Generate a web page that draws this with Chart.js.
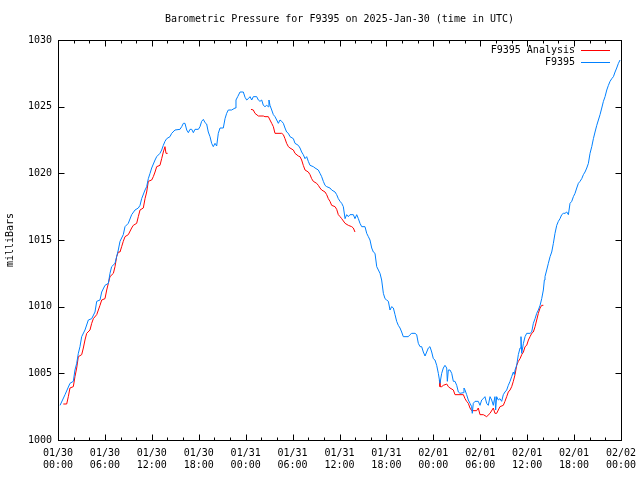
<!DOCTYPE html>
<html>
<head>
<meta charset="utf-8">
<title>Barometric Pressure for F9395</title>
<script src="https://cdn.jsdelivr.net/npm/chart.js@4.4.1/dist/chart.umd.min.js"></script>
<style>
    html, body { margin: 0; padding: 0; background: #fff; }
</style>
</head>
<body>
<canvas id="pressureChart" width="640" height="480"></canvas>
<script>
// --- Data (hours since 01/30 00:00 UTC, pressure in mbar) ---
const chartTitle = 'Barometric Pressure for F9395 on 2025-Jan-30 (time in UTC)';
const yAxisLabel = 'milliBars';

const tickDates = ['01/30', '01/30', '01/30', '01/30', '01/31', '01/31', '01/31', '01/31', '02/01', '02/01', '02/01', '02/01', '02/02'];
const tickTimes = ['00:00', '06:00', '12:00', '18:00', '00:00', '06:00', '12:00', '18:00', '00:00', '06:00', '12:00', '18:00', '00:00'];

const stationLabel = 'F9395';
const stationHours = [
    0.26, 0.9, 1.53, 1.96, 2.17, 2.39, 2.6, 2.81, 3.03, 3.45, 3.88, 4.31, 4.73, 4.95, 5.37, 5.59, 6.01, 6.44, 6.65, 6.86,
    7.29, 7.5, 7.71, 7.93, 8.35, 8.57, 8.99, 9.42, 9.85, 10.27, 10.49, 10.7, 11.13, 11.34, 11.55, 11.77, 11.98, 12.41, 12.62, 13.04,
    13.26, 13.47, 13.68, 13.9, 14.32, 14.54, 14.96, 15.6, 15.82, 16.03, 16.24, 16.46, 16.67, 16.88, 17.1, 17.31, 17.52, 17.95, 18.16, 18.37,
    18.59, 18.8, 19.01, 19.22, 19.44, 19.65, 19.86, 20.08, 20.29, 20.5, 20.72, 21.14, 21.36, 21.57, 21.78, 22.21, 22.64, 22.76, 22.98, 23.28,
    23.7, 23.92, 24.13, 24.34, 24.56, 24.77, 24.98, 25.41, 25.62, 25.83, 26.05, 26.26, 26.47, 26.69, 26.9, 26.98, 27.11, 27.33, 27.54, 27.75,
    27.97, 28.18, 28.39, 28.61, 28.82, 29.03, 29.24, 29.46, 29.67, 30.1, 30.31, 30.73, 30.95, 31.16, 31.37, 31.59, 31.8, 32.01, 32.23, 32.65,
    32.87, 33.29, 33.51, 33.72, 33.93, 34.15, 34.36, 34.78, 35.0, 35.43, 35.64, 35.85, 36.07, 36.28, 36.49, 36.71, 36.92, 37.13, 37.34, 37.77,
    37.98, 38.2, 38.41, 38.62, 38.84, 39.26, 39.48, 39.69, 39.9, 40.12, 40.33, 40.54, 40.76, 40.97, 41.18, 41.39, 41.61, 41.82, 42.03, 42.25,
    42.46, 42.67, 42.89, 43.1, 43.31, 43.52, 43.74, 43.95, 44.16, 44.8, 45.02, 45.23, 45.66, 45.87, 46.08, 46.3, 46.51, 46.72, 46.94, 47.15,
    47.36, 47.57, 47.79, 48.0, 48.21, 48.43, 48.64, 48.85, 49.07, 49.28, 49.49, 49.71, 49.79, 49.92, 50.13, 50.35, 50.56, 50.77, 50.99, 51.2,
    51.41, 51.84, 51.92, 52.05, 52.26, 52.47, 52.69, 52.9, 52.98, 53.11, 53.33, 53.75, 53.97, 54.18, 54.39, 54.6, 54.82, 55.03, 55.25, 55.46,
    55.67, 55.88, 55.97, 56.1, 56.31, 56.52, 56.74, 56.95, 57.16, 57.38, 57.59, 57.81, 58.02, 58.23, 58.36, 58.45, 58.66, 58.87, 59.09, 59.21,
    59.3, 59.52, 59.73, 59.94, 60.37, 60.58, 60.79, 61.01, 61.22, 61.43, 61.65, 61.86, 62.07, 62.2, 62.28, 62.5, 62.71, 62.93, 63.14, 63.35,
    63.56, 63.78, 63.99, 64.2, 64.42, 64.63, 64.84, 65.06, 65.27, 65.48, 65.7, 65.91, 66.12, 66.34, 66.55, 66.76, 66.98, 67.19, 67.4, 67.62,
    67.83, 68.04, 68.26, 68.47, 68.68, 68.9, 69.11, 69.32, 69.54, 69.75, 69.96, 70.18, 70.39, 70.6, 70.82, 71.03, 71.24, 71.45, 71.67, 71.88
];
const stationValues = [
    1002.6, 1003.4, 1004.25, 1004.4, 1005.25, 1005.75, 1006.5, 1007.0, 1007.75, 1008.25, 1009.0, 1009.1, 1009.6, 1010.4, 1010.5, 1011.1, 1011.6, 1011.75, 1012.5, 1013.0,
    1013.25, 1013.75, 1014.25, 1014.9, 1015.4, 1016.0, 1016.25, 1016.9, 1017.25, 1017.4, 1017.6, 1018.1, 1018.75, 1019.0, 1019.6, 1020.0, 1020.4, 1021.0, 1021.25, 1021.5,
    1021.75, 1022.1, 1022.4, 1022.6, 1022.75, 1023.0, 1023.25, 1023.3, 1023.5, 1023.75, 1023.75, 1023.25, 1023.05, 1023.3, 1023.3, 1023.05, 1023.3, 1023.3, 1023.5, 1023.9,
    1024.05, 1023.8, 1023.7, 1023.1, 1022.75, 1022.25, 1022.0, 1022.25, 1022.05, 1023.0, 1023.4, 1023.4, 1024.1, 1024.5, 1024.75, 1024.75, 1024.9, 1025.5, 1025.75, 1026.1,
    1026.1, 1025.7, 1025.5, 1025.6, 1025.75, 1025.5, 1025.75, 1025.75, 1025.5, 1025.4, 1025.5, 1025.1, 1025.0, 1025.1, 1025.0, 1025.5, 1025.1, 1024.75, 1024.4, 1024.25,
    1024.0, 1023.75, 1024.0, 1023.9, 1023.75, 1023.4, 1023.1, 1023.0, 1022.75, 1022.6, 1022.25, 1022.1, 1021.9, 1021.6, 1021.4, 1021.1, 1021.25, 1020.9, 1020.6, 1020.5,
    1020.4, 1020.25, 1020.0, 1019.75, 1019.4, 1019.1, 1019.0, 1018.9, 1018.75, 1018.6, 1018.4, 1018.1, 1017.9, 1017.75, 1017.5, 1016.6, 1016.9, 1016.75, 1016.9, 1016.9,
    1016.6, 1016.9, 1016.6, 1016.25, 1016.0, 1016.0, 1015.5, 1015.25, 1015.0, 1014.4, 1014.1, 1014.0, 1013.0, 1012.75, 1012.5, 1012.0, 1011.0, 1010.6, 1010.5, 1010.4,
    1009.75, 1010.0, 1009.9, 1009.4, 1008.9, 1008.6, 1008.4, 1008.1, 1007.75, 1007.75, 1007.9, 1008.0, 1008.0, 1007.9, 1007.25, 1007.0, 1007.0, 1006.6, 1006.3, 1006.6,
    1006.9, 1007.0, 1006.6, 1006.1, 1006.0, 1005.6, 1005.0, 1004.25, 1005.0, 1005.4, 1005.6, 1005.4, 1004.4, 1005.25, 1005.25, 1005.0, 1004.4, 1004.4, 1004.1, 1003.6,
    1003.5, 1003.55, 1003.9, 1003.75, 1003.4, 1003.0, 1002.75, 1002.5, 1002.0, 1002.75, 1002.9, 1002.9, 1002.6, 1003.0, 1003.1, 1003.25, 1002.75, 1002.6, 1003.25, 1003.0,
    1002.6, 1003.25, 1002.25, 1003.25, 1003.0, 1003.1, 1002.9, 1003.4, 1003.6, 1003.75, 1004.1, 1004.4, 1004.75, 1005.1, 1004.9, 1005.25, 1005.6, 1006.4, 1006.9, 1007.75,
    1006.5, 1007.25, 1007.75, 1008.0, 1008.0, 1008.1, 1008.75, 1009.1, 1009.5, 1009.75, 1010.1, 1010.6, 1011.25, 1012.0, 1012.25, 1012.75, 1013.25, 1013.75, 1014.1, 1014.75,
    1015.5, 1016.1, 1016.4, 1016.6, 1016.9, 1017.0, 1017.0, 1017.1, 1016.9, 1017.75, 1017.9, 1018.25, 1018.5, 1018.9, 1019.25, 1019.4, 1019.6, 1019.9, 1020.1, 1020.4,
    1020.75, 1021.5, 1022.0, 1022.6, 1023.1, 1023.6, 1024.0, 1024.4, 1024.9, 1025.4, 1025.75, 1026.25, 1026.6, 1026.9, 1027.1, 1027.25, 1027.6, 1027.9, 1028.25, 1028.5
];

// analysis has gaps (null) where no analysis was drawn
const analysisLabel = 'F9395 Analysis';
const analysisHours = [
    0.68, 1.11, 1.32, 1.53, 1.96, 2.17, 2.39, 2.6, 3.03, 3.24, 3.45, 3.67, 4.09, 4.31, 4.52, 4.95, 5.16, 5.37, 5.59, 6.01,
    6.23, 6.44, 6.65, 7.08, 7.29, 7.5, 7.71, 7.93, 8.14, 8.35, 8.57, 8.99, 9.42, 9.63, 10.06, 10.27, 10.49, 10.91, 11.13, 11.34,
    11.55, 11.98, 12.19, 12.41, 12.62, 13.04, 13.26, 13.47, 13.68, 13.81, 14.02,
    19,
    24.68, 24.98, 25.19, 25.62, 26.26, 26.47, 26.9, 27.11, 27.33, 27.54, 27.75, 28.61, 28.82, 29.03, 29.24, 29.46, 29.67, 30.1, 30.31, 30.73,
    30.95, 31.16, 31.37, 31.59, 32.01, 32.23, 32.44, 32.65, 33.08, 33.29, 33.51, 33.72, 34.15, 34.36, 34.57, 34.78, 35.0, 35.43, 35.64, 35.85,
    36.07, 36.28, 36.71, 37.13, 37.56, 37.77, 37.98,
    43,
    48.77, 48.85, 49.07, 49.28, 49.71, 49.92, 50.13, 50.56, 50.77, 51.84, 52.05, 52.26, 52.47, 52.69, 52.9, 53.54, 53.75, 53.97, 54.39, 54.82,
    55.25, 55.67, 55.88, 56.1, 56.31, 56.52, 56.95, 57.16, 57.38, 57.59, 57.81, 58.02, 58.23, 58.45, 58.66, 58.87, 59.09, 59.3, 59.52, 59.73,
    59.94, 60.16, 60.37, 60.58, 60.79, 61.01, 61.22, 61.43, 61.65, 61.86, 62.07
];
const analysisValues = [
    1002.7, 1002.7, 1003.25, 1003.9, 1004.0, 1004.75, 1005.4, 1006.25, 1006.4, 1006.9, 1007.5, 1008.0, 1008.25, 1008.75, 1009.1, 1009.4, 1009.75, 1010.1, 1010.5, 1010.6,
    1011.25, 1011.75, 1012.25, 1012.5, 1013.0, 1013.75, 1014.1, 1014.1, 1014.5, 1014.9, 1015.25, 1015.4, 1015.9, 1016.1, 1016.25, 1016.75, 1017.25, 1017.4, 1018.1, 1018.6,
    1019.4, 1019.5, 1019.75, 1020.1, 1020.5, 1020.6, 1021.1, 1021.6, 1022.0, 1021.5, 1021.5,
    null,
    1024.8, 1024.75, 1024.5, 1024.3, 1024.3, 1024.25, 1024.25, 1024.0, 1023.75, 1023.5, 1023.0, 1023.0, 1022.9, 1022.6, 1022.25, 1022.0, 1021.9, 1021.75, 1021.5, 1021.3,
    1021.25, 1021.0, 1020.6, 1020.25, 1020.1, 1019.9, 1019.6, 1019.4, 1019.25, 1019.1, 1018.9, 1018.75, 1018.6, 1018.4, 1018.1, 1017.9, 1017.6, 1017.5, 1017.3, 1016.9,
    1016.75, 1016.6, 1016.25, 1016.1, 1016.0, 1015.9, 1015.6,
    null,
    1004.5, 1004.0, 1004.0, 1004.1, 1004.2, 1004.0, 1003.9, 1003.75, 1003.4, 1003.4, 1003.1, 1002.9, 1002.75, 1002.4, 1002.2, 1002.2, 1002.4, 1001.9, 1001.9, 1001.75,
    1002.0, 1002.4, 1002.0, 1002.0, 1002.25, 1002.5, 1002.6, 1002.9, 1003.25, 1003.6, 1003.75, 1004.0, 1004.4, 1004.9, 1005.6, 1005.9, 1006.1, 1006.4, 1006.6, 1007.0,
    1007.1, 1007.5, 1007.75, 1008.0, 1008.1, 1008.5, 1009.0, 1009.5, 1009.9, 1010.1, 1010.1
];

const FONT = '"DejaVu Sans Mono", "Liberation Mono", monospace';
const ANALYSIS_COLOR = '#ff0000';
const STATION_COLOR = '#0080ff';

function toPoints(xs, ys) {
    return xs.map((x, i) => ({ x: x, y: ys[i] }));
}

// --- gnuplot-like frame, inward ticks, title, y label and legend ---
const gnuplotDecor = {
    id: 'gnuplotDecor',
    afterDraw(chart) {
        const ctx = chart.ctx;
        const area = chart.chartArea;
        const xs = chart.scales.x;
        const ys = chart.scales.y;
        const L = Math.round(area.left) + 0.5;
        const R = Math.round(area.right) + 0.5;
        const T = Math.round(area.top) + 0.5;
        const B = Math.round(area.bottom) + 0.5;

        ctx.save();
        ctx.strokeStyle = '#000';
        ctx.lineWidth = 1;
        ctx.strokeRect(L, T, R - L, B - T);

        ctx.beginPath();
        xs.ticks.forEach(t => {
            const px = Math.round(xs.getPixelForValue(t.value)) + 0.5;
            const len = (t.value % 6 === 0) ? 6 : 3;
            ctx.moveTo(px, B); ctx.lineTo(px, B - len);
            ctx.moveTo(px, T); ctx.lineTo(px, T + len);
        });
        ys.ticks.forEach(t => {
            const py = Math.round(ys.getPixelForValue(t.value)) + 0.5;
            ctx.moveTo(L, py); ctx.lineTo(L + 6, py);
            ctx.moveTo(R, py); ctx.lineTo(R - 6, py);
        });
        ctx.stroke();

        ctx.fillStyle = '#000';
        ctx.font = '10px ' + FONT;
        ctx.textAlign = 'center';
        ctx.textBaseline = 'middle';
        ctx.fillText(chartTitle, (area.left + area.right) / 2, 19);

        ctx.save();
        ctx.translate(10, (area.top + area.bottom) / 2);
        ctx.rotate(-Math.PI / 2);
        ctx.fillText(yAxisLabel, 0, 0);
        ctx.restore();

        // legend (top right, text right-aligned, line sample to the right)
        ctx.textAlign = 'right';
        const legendColors = [ANALYSIS_COLOR, STATION_COLOR];
        chart.data.datasets.forEach((ds, i) => {
            const y = 50 + i * 12;
            ctx.fillStyle = '#000';
            ctx.fillText(ds.label, 575, y);
            ctx.strokeStyle = legendColors[i];
            ctx.lineWidth = 1;
            ctx.beginPath();
            ctx.moveTo(581, y + 0.5);
            ctx.lineTo(610, y + 0.5);
            ctx.stroke();
        });
        ctx.restore();
    }
};

const ctx = document.getElementById('pressureChart').getContext('2d');

new Chart(ctx, {
    type: 'line',
    data: {
        datasets: [{
            label: analysisLabel,
            data: toPoints(analysisHours, analysisValues),
            borderColor: ANALYSIS_COLOR,
            borderWidth: 1,
            pointRadius: 0,
            spanGaps: false,
            tension: 0,
            order: 1
        }, {
            label: stationLabel,
            data: toPoints(stationHours, stationValues),
            borderColor: STATION_COLOR,
            borderWidth: 1,
            pointRadius: 0,
            tension: 0,
            order: 0
        }]
    },
    options: {
        responsive: false,
        animation: false,
        layout: { padding: { left: 0, right: 19, top: 40, bottom: 0 } },
        plugins: {
            legend: { display: false },
            title: { display: false },
            tooltip: { enabled: false }
        },
        scales: {
            x: {
                type: 'linear',
                min: 0,
                max: 72,
                grid: { display: false, drawTicks: false },
                border: { display: false },
                afterFit: (scale) => {
                    scale.height = 40;
                    scale.paddingLeft = 0;
                    scale.paddingRight = 0;
                },
                ticks: {
                    stepSize: 2,
                    autoSkip: false,
                    maxRotation: 0,
                    padding: 7,
                    color: '#000',
                    font: { family: FONT, size: 10, lineHeight: 1.25 },
                    callback: function (value) {
                        if (value % 6 !== 0) return '';
                        const i = value / 6;
                        return [tickDates[i], tickTimes[i]];
                    }
                }
            },
            y: {
                min: 1000,
                max: 1030,
                grid: { display: false, drawTicks: false },
                border: { display: false },
                afterFit: (scale) => {
                    scale.width = 58;
                    scale.paddingTop = 0;
                    scale.paddingBottom = 0;
                },
                ticks: {
                    stepSize: 5,
                    padding: 6,
                    color: '#000',
                    font: { family: FONT, size: 10 },
                    callback: (value) => String(value)
                }
            }
        }
    },
    plugins: [gnuplotDecor]
});
</script>
</body>
</html>
